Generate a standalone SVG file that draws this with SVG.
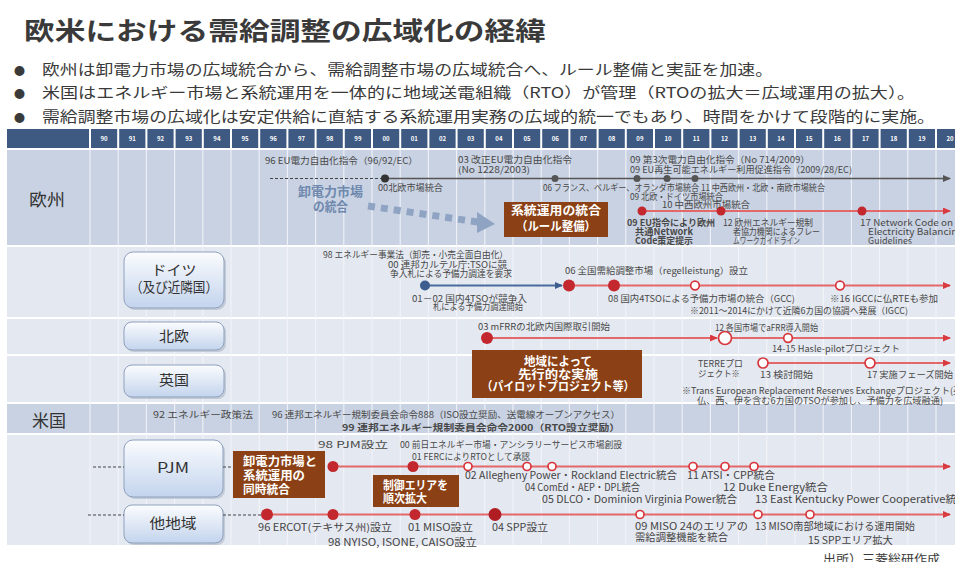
<svg xmlns="http://www.w3.org/2000/svg" width="955" height="562" viewBox="0 0 955 562">
<defs>
<style>
text{font-family:'Noto Sans CJK JP','Noto Sans',sans-serif;fill:#3a3a3a}
.t{font-size:9px;fill:#484848}
.m{font-size:10px;fill:#444}
.b{font-weight:bold}
.yr{font-size:6px;fill:#fff;text-anchor:middle;font-weight:bold}
.bw{font-size:12px;fill:#fff;font-weight:bold}
.bl{font-size:13px;fill:#6f88ae;font-weight:bold}
.lab{font-size:17px;fill:#333}
.nb{font-size:14px;fill:#333;text-anchor:middle}
.red{stroke:#e2686a;stroke-width:2;fill:none}
.dot{fill:#c2282e}
.hol{fill:#fff;stroke:#d8363d;stroke-width:1.7}
.brown{fill:#8b4115}
.nbox{fill:url(#ng);stroke:#8fa1bd;stroke-width:1}
.shd{fill:#9aa6b8;opacity:.45}
.grid line{stroke:#f4f6fa;stroke-width:1.2;opacity:.85}
.dash{stroke:#444;stroke-width:1;stroke-dasharray:3 2;fill:none}
</style>
<linearGradient id="ng" x1="0" y1="0" x2="0" y2="1">
<stop offset="0" stop-color="#fbfcfe"/>
<stop offset="1" stop-color="#c3d4ed"/>
</linearGradient>
<marker id="ar" viewBox="0 0 8 7" refX="7" refY="3.5" markerWidth="8" markerHeight="7" markerUnits="userSpaceOnUse" orient="auto"><path d="M0,0 L8,3.5 L0,7 z" fill="#d93a40"/></marker>
<marker id="ag" viewBox="0 0 8 7" refX="7" refY="3.5" markerWidth="8" markerHeight="7" markerUnits="userSpaceOnUse" orient="auto"><path d="M0,0 L8,3.5 L0,7 z" fill="#555"/></marker>
<marker id="ab" viewBox="0 0 8 7" refX="7" refY="3.5" markerWidth="8" markerHeight="7" markerUnits="userSpaceOnUse" orient="auto"><path d="M0,0 L8,3.5 L0,7 z" fill="#3d5d8f"/></marker>
</defs>
<rect width="955" height="562" fill="#fff"/>

<g id="title">
<text x="24" y="40" font-size="25" font-weight="bold" fill="#111" textLength="522" lengthAdjust="spacingAndGlyphs">欧米における需給調整の広域化の経緯</text>
<g font-size="14.5" fill="#222">
<text x="14" y="75" font-size="11" fill="#111">●</text>
<text x="42" y="75" font-size="14.5" textLength="731" lengthAdjust="spacingAndGlyphs">欧州は卸電力市場の広域統合から、需給調整市場の広域統合へ、ルール整備と実証を加速。</text>
<text x="14" y="98" font-size="11" fill="#111">●</text>
<text x="42" y="98" font-size="14.5" textLength="873" lengthAdjust="spacingAndGlyphs">米国はエネルギー市場と系統運用を一体的に地域送電組織（RTO）が管理（RTOの拡大＝広域運用の拡大）。</text>
<text x="14" y="122" font-size="11" fill="#111">●</text>
<text x="42" y="122" font-size="14.5" textLength="893" lengthAdjust="spacingAndGlyphs">需給調整市場の広域化は安定供給に直結する系統運用実務の広域的統一でもあり、時間をかけて段階的に実施。</text>
</g>
</g>

<g id="table">
<rect x="7" y="129" width="948" height="19" fill="#3e5a83"/>
<rect x="7" y="150" width="948" height="95" fill="#c8d2e2"/>
<rect x="7" y="247" width="948" height="70" fill="#e4e8f0"/>
<rect x="7" y="319" width="948" height="35" fill="#e4e8f0"/>
<rect x="7" y="356" width="948" height="46" fill="#e4e8f0"/>
<rect x="7" y="404" width="948" height="29" fill="#c8d2e2"/>
<rect x="7" y="435" width="948" height="110" fill="#e4e8f0"/>
<g class="grid">
<line x1="90" y1="150" x2="90" y2="545"/><line x1="118.2" y1="150" x2="118.2" y2="545"/><line x1="146.4" y1="150" x2="146.4" y2="545"/><line x1="174.6" y1="150" x2="174.6" y2="545"/><line x1="202.8" y1="150" x2="202.8" y2="545"/><line x1="231" y1="150" x2="231" y2="545"/><line x1="259.2" y1="150" x2="259.2" y2="545"/><line x1="287.4" y1="150" x2="287.4" y2="545"/><line x1="315.6" y1="150" x2="315.6" y2="545"/><line x1="343.8" y1="150" x2="343.8" y2="545"/><line x1="372" y1="150" x2="372" y2="545"/><line x1="400.2" y1="150" x2="400.2" y2="545"/><line x1="428.4" y1="150" x2="428.4" y2="545"/><line x1="456.6" y1="150" x2="456.6" y2="545"/><line x1="484.8" y1="150" x2="484.8" y2="545"/><line x1="513" y1="150" x2="513" y2="545"/><line x1="541.2" y1="150" x2="541.2" y2="545"/><line x1="569.4" y1="150" x2="569.4" y2="545"/><line x1="597.6" y1="150" x2="597.6" y2="545"/><line x1="625.8" y1="150" x2="625.8" y2="545"/><line x1="654" y1="150" x2="654" y2="545"/><line x1="682.2" y1="150" x2="682.2" y2="545"/><line x1="710.4" y1="150" x2="710.4" y2="545"/><line x1="738.6" y1="150" x2="738.6" y2="545"/><line x1="766.8" y1="150" x2="766.8" y2="545"/><line x1="795" y1="150" x2="795" y2="545"/><line x1="823.2" y1="150" x2="823.2" y2="545"/><line x1="851.4" y1="150" x2="851.4" y2="545"/><line x1="879.6" y1="150" x2="879.6" y2="545"/><line x1="907.8" y1="150" x2="907.8" y2="545"/><line x1="936" y1="150" x2="936" y2="545"/>
</g>
<g stroke="#fff" stroke-width="2">
<line x1="90" y1="129" x2="90" y2="148"/><line x1="118.2" y1="129" x2="118.2" y2="148"/><line x1="146.4" y1="129" x2="146.4" y2="148"/><line x1="174.6" y1="129" x2="174.6" y2="148"/><line x1="202.8" y1="129" x2="202.8" y2="148"/><line x1="231" y1="129" x2="231" y2="148"/><line x1="259.2" y1="129" x2="259.2" y2="148"/><line x1="287.4" y1="129" x2="287.4" y2="148"/><line x1="315.6" y1="129" x2="315.6" y2="148"/><line x1="343.8" y1="129" x2="343.8" y2="148"/><line x1="372" y1="129" x2="372" y2="148"/><line x1="400.2" y1="129" x2="400.2" y2="148"/><line x1="428.4" y1="129" x2="428.4" y2="148"/><line x1="456.6" y1="129" x2="456.6" y2="148"/><line x1="484.8" y1="129" x2="484.8" y2="148"/><line x1="513" y1="129" x2="513" y2="148"/><line x1="541.2" y1="129" x2="541.2" y2="148"/><line x1="569.4" y1="129" x2="569.4" y2="148"/><line x1="597.6" y1="129" x2="597.6" y2="148"/><line x1="625.8" y1="129" x2="625.8" y2="148"/><line x1="654" y1="129" x2="654" y2="148"/><line x1="682.2" y1="129" x2="682.2" y2="148"/><line x1="710.4" y1="129" x2="710.4" y2="148"/><line x1="738.6" y1="129" x2="738.6" y2="148"/><line x1="766.8" y1="129" x2="766.8" y2="148"/><line x1="795" y1="129" x2="795" y2="148"/><line x1="823.2" y1="129" x2="823.2" y2="148"/><line x1="851.4" y1="129" x2="851.4" y2="148"/><line x1="879.6" y1="129" x2="879.6" y2="148"/><line x1="907.8" y1="129" x2="907.8" y2="148"/><line x1="936" y1="129" x2="936" y2="148"/>
</g>
<g>
<text class="yr" x="104.1" y="141">90</text><text class="yr" x="132.3" y="141">91</text><text class="yr" x="160.5" y="141">92</text><text class="yr" x="188.7" y="141">93</text><text class="yr" x="216.9" y="141">94</text><text class="yr" x="245.1" y="141">95</text><text class="yr" x="273.3" y="141">96</text><text class="yr" x="301.5" y="141">97</text><text class="yr" x="329.7" y="141">98</text><text class="yr" x="357.9" y="141">99</text><text class="yr" x="386.1" y="141">00</text><text class="yr" x="414.3" y="141">01</text><text class="yr" x="442.5" y="141">02</text><text class="yr" x="470.7" y="141">03</text><text class="yr" x="498.9" y="141">04</text><text class="yr" x="527.1" y="141">05</text><text class="yr" x="555.3" y="141">06</text><text class="yr" x="583.5" y="141">07</text><text class="yr" x="611.7" y="141">08</text><text class="yr" x="639.9" y="141">09</text><text class="yr" x="668.1" y="141">10</text><text class="yr" x="696.3" y="141">11</text><text class="yr" x="724.5" y="141">12</text><text class="yr" x="752.7" y="141">13</text><text class="yr" x="780.9" y="141">14</text><text class="yr" x="809.1" y="141">15</text><text class="yr" x="837.3" y="141">16</text><text class="yr" x="865.5" y="141">17</text><text class="yr" x="893.7" y="141">18</text><text class="yr" x="921.9" y="141">19</text><text class="yr" x="950.1" y="141">20</text>
</g>
<text class="lab" x="29" y="206" textLength="36" lengthAdjust="spacingAndGlyphs">欧州</text>
<text class="lab" x="32" y="427" font-size="16" textLength="34" lengthAdjust="spacingAndGlyphs">米国</text>
</g>

<g id="node-germany">
<rect class="shd" x="126" y="254" width="100" height="56" rx="9"/>
<rect class="nbox" x="124" y="252" width="100" height="56" rx="9"/>
<text class="nb" x="174" y="275" textLength="45" lengthAdjust="spacingAndGlyphs">ドイツ</text>
<text class="nb" x="174" y="292" font-size="12" textLength="88" lengthAdjust="spacingAndGlyphs">（及び近隣国）</text>
</g>
<g id="node-nordic">
<rect class="shd" x="126" y="324" width="100" height="28" rx="8"/>
<rect class="nbox" x="124" y="322" width="100" height="28" rx="8"/>
<text class="nb" x="174" y="341" font-size="13" textLength="30" lengthAdjust="spacingAndGlyphs">北欧</text>
</g>
<g id="node-uk">
<rect class="shd" x="126" y="367" width="100" height="32" rx="8"/>
<rect class="nbox" x="124" y="365" width="100" height="32" rx="8"/>
<text class="nb" x="174" y="385" font-size="13" textLength="30" lengthAdjust="spacingAndGlyphs">英国</text>
</g>
<g id="node-pjm">
<rect class="shd" x="126" y="442" width="99" height="57" rx="9"/>
<rect class="nbox" x="124" y="440" width="99" height="57" rx="9"/>
<text class="nb" x="173" y="473" textLength="32" lengthAdjust="spacingAndGlyphs">PJM</text>
</g>
<g id="node-other">
<rect class="shd" x="126" y="507" width="99" height="38" rx="8"/>
<rect class="nbox" x="124" y="505" width="99" height="38" rx="8"/>
<text class="nb" x="173" y="528" textLength="47" lengthAdjust="spacingAndGlyphs">他地域</text>
</g>

<g id="connectors">
<line class="dash" x1="270" y1="178.5" x2="385" y2="178.5"/>
<line x1="385" y1="178.5" x2="950" y2="178.5" stroke="#555" stroke-width="1.3" marker-end="url(#ag)"/>
<circle cx="385" cy="178.5" r="4" fill="#333"/>
<g fill="#555"><circle cx="555" cy="178.5" r="3.5"/><circle cx="637" cy="178.5" r="3.5"/><circle cx="667" cy="178.5" r="3.5"/><circle cx="695" cy="178.5" r="3.5"/></g>
<line x1="368" y1="206" x2="478" y2="222" stroke="#8fa3c3" stroke-width="7" stroke-dasharray="7 6"/>
<path d="M477,212 L495,224 L477,233 z" fill="#8fa3c3"/>
<line class="red" x1="642" y1="211" x2="950" y2="211" marker-end="url(#ar)"/>
<g class="dot"><circle cx="642" cy="211" r="4.5"/><circle cx="721" cy="211" r="4.5"/><circle cx="862" cy="211" r="4.5"/></g>
<line x1="425" y1="285.5" x2="562" y2="285.5" stroke="#4a6b9c" stroke-width="2" marker-end="url(#ab)"/>
<circle cx="425" cy="285.5" r="5" fill="#3d5d8f"/>
<line class="red" x1="569" y1="285.5" x2="950" y2="285.5" marker-end="url(#ar)"/>
<g class="dot"><circle cx="569" cy="285.5" r="6"/><circle cx="614" cy="285.5" r="6"/></g>
<circle class="hol" cx="695" cy="285.5" r="4.3"/><circle class="hol" cx="840" cy="285.5" r="4.3"/>
<line class="red" x1="487" y1="338" x2="717" y2="338" marker-end="url(#ar)"/>
<line class="red" x1="732" y1="338" x2="950" y2="338" marker-end="url(#ar)"/>
<circle class="dot" cx="487" cy="338" r="6"/>
<circle class="hol" cx="725" cy="338" r="6.5"/>
<circle class="hol" cx="788" cy="338" r="4.3"/>
<line class="red" x1="763" y1="363" x2="950" y2="363" marker-end="url(#ar)"/>
<circle class="hol" cx="763" cy="363" r="5"/><circle class="hol" cx="870" cy="363" r="5"/>
<line class="dash" x1="93" y1="467" x2="124" y2="467"/>
<line class="dash" x1="223" y1="467" x2="233" y2="467"/>
<line class="red" x1="333" y1="466.5" x2="950" y2="466.5" marker-end="url(#ar)"/>
<g class="dot"><circle cx="333" cy="466.5" r="5.5"/><circle cx="413" cy="466.5" r="5.5"/></g>
<g class="hol"><circle cx="468" cy="466.5" r="4"/><circle cx="527" cy="466.5" r="4"/><circle cx="552" cy="466.5" r="4"/><circle cx="693" cy="466.5" r="4"/><circle cx="725" cy="466.5" r="4"/><circle cx="754" cy="466.5" r="4"/></g>
<line class="dash" x1="88" y1="515" x2="124" y2="515"/>
<line class="dash" x1="223" y1="515" x2="262" y2="515"/>
<line class="red" x1="267" y1="514.5" x2="950" y2="514.5" marker-end="url(#ar)"/>
<g class="dot"><circle cx="267" cy="514.5" r="6"/><circle cx="333" cy="514.5" r="5.5"/><circle cx="415" cy="514.5" r="5.5"/><circle cx="495" cy="514.5" r="6.5" fill="#b01e24"/></g>
<g class="hol"><circle cx="640" cy="514.5" r="4"/><circle cx="758" cy="514.5" r="4"/><circle cx="810" cy="514.5" r="4"/></g>
</g>

<g id="node-rule">
<rect class="brown" x="504" y="202" width="104" height="35"/>
<text class="bw" x="556" y="215" text-anchor="middle" font-size="13" textLength="90" lengthAdjust="spacingAndGlyphs">系統運用の統合</text>
<text class="bw" x="556" y="231" text-anchor="middle" font-size="13" textLength="80" lengthAdjust="spacingAndGlyphs">（ルール整備）</text>
</g>
<g id="node-pilot">
<rect class="brown" x="472" y="350" width="170" height="48"/>
<text class="bw" x="558" y="366" text-anchor="middle" textLength="68" lengthAdjust="spacingAndGlyphs">地域によって</text>
<text class="bw" x="558" y="378.5" text-anchor="middle" textLength="80" lengthAdjust="spacingAndGlyphs">先行的な実施</text>
<text class="bw" x="558" y="391" text-anchor="middle" textLength="153" lengthAdjust="spacingAndGlyphs">（パイロットプロジェクト等）</text>
</g>
<g id="node-simul">
<rect class="brown" x="233" y="451" width="92" height="47"/>
<text class="bw" x="243" y="466" textLength="74" lengthAdjust="spacingAndGlyphs">卸電力市場と</text>
<text class="bw" x="243" y="480" textLength="62" lengthAdjust="spacingAndGlyphs">系統運用の</text>
<text class="bw" x="243" y="494" textLength="47" lengthAdjust="spacingAndGlyphs">同時統合</text>
</g>
<g id="node-area">
<rect class="brown" x="373" y="475" width="86" height="32"/>
<text class="bw" x="383" y="489.5" textLength="65" lengthAdjust="spacingAndGlyphs">制御エリアを</text>
<text class="bw" x="383" y="502.5" textLength="44" lengthAdjust="spacingAndGlyphs">順次拡大</text>
</g>

<g id="labels">
<text class="t" x="265" y="164" textLength="153" lengthAdjust="spacingAndGlyphs">96 EU電力自由化指令（96/92/EC）</text>
<text class="t" x="458" y="163" textLength="114" lengthAdjust="spacingAndGlyphs">03 改正EU電力自由化指令</text>
<text class="t" x="458" y="172.5" textLength="72" lengthAdjust="spacingAndGlyphs">(No 1228/2003)</text>
<text class="t" x="630" y="163" textLength="180" lengthAdjust="spacingAndGlyphs">09 第3次電力自由化指令（No 714/2009）</text>
<text class="t" x="630" y="172.5" textLength="222" lengthAdjust="spacingAndGlyphs">09 EU再生可能エネルギー利用促進指令（2009/28/EC)</text>
<text class="t" x="378" y="191" font-size="8.5" textLength="65" lengthAdjust="spacingAndGlyphs">00北欧市場統合</text>
<text class="t" x="543" y="190.5" textLength="282" lengthAdjust="spacingAndGlyphs">06 フランス、ベルギー、オランダ市場統合 11 中西欧州・北欧・南欧市場統合</text>
<text class="t" x="630" y="199.5" textLength="93" lengthAdjust="spacingAndGlyphs">09 北欧・ドイツ市場統合</text>
<text class="t" x="662" y="208" textLength="88" lengthAdjust="spacingAndGlyphs">10 中西欧州市場統合</text>
<text class="bl" x="298" y="196" textLength="65" lengthAdjust="spacingAndGlyphs">卸電力市場</text>
<text class="bl" x="313" y="211" textLength="35" lengthAdjust="spacingAndGlyphs">の統合</text>
<text class="t b" x="627" y="225.5" fill="#222" textLength="88" lengthAdjust="spacingAndGlyphs">09 EU指令により欧州</text>
<text class="t b" x="635" y="234.5" fill="#222" textLength="58" lengthAdjust="spacingAndGlyphs">共通Network</text>
<text class="t b" x="635" y="243.5" fill="#222" textLength="58" lengthAdjust="spacingAndGlyphs">Code策定提示</text>
<text class="t" x="723" y="225.5" textLength="90" lengthAdjust="spacingAndGlyphs">12 欧州エネルギー規制</text>
<text class="t" x="733" y="234.5" textLength="87" lengthAdjust="spacingAndGlyphs">者協力機関によるフレー</text>
<text class="t" x="733" y="243.5" textLength="67" lengthAdjust="spacingAndGlyphs">ムワークガイドライン</text>
<text class="t" x="860" y="225.5" textLength="93" lengthAdjust="spacingAndGlyphs">17 Network Code on</text>
<text class="t" x="868" y="234.5" textLength="95" lengthAdjust="spacingAndGlyphs">Electricity Balancing</text>
<text class="t" x="868" y="243.5" textLength="44" lengthAdjust="spacingAndGlyphs">Guidelines</text>
<text class="t" x="323" y="257.5" font-size="8.5" textLength="185" lengthAdjust="spacingAndGlyphs">98 エネルギー事業法（卸売・小売全面自由化）</text>
<text class="t" x="388" y="268" font-size="8.5" textLength="119" lengthAdjust="spacingAndGlyphs">00 連邦カルテル庁:TSOに競</text>
<text class="t" x="390" y="276.5" font-size="8.5" textLength="122" lengthAdjust="spacingAndGlyphs">争入札による予備力調達を要求</text>
<text class="t" x="412" y="301.5" font-size="8.5" textLength="115" lengthAdjust="spacingAndGlyphs">01－02 国内4TSOが競争入</text>
<text class="t" x="433" y="309.5" font-size="8.5" textLength="90" lengthAdjust="spacingAndGlyphs">札による予備力調達開始</text>
<text class="t" x="565" y="273.5" textLength="183" lengthAdjust="spacingAndGlyphs">06 全国需給調整市場（regelleistung）設立</text>
<text class="t" x="608" y="301.5" textLength="187" lengthAdjust="spacingAndGlyphs">08 国内4TSOによる予備力市場の統合（GCC)</text>
<text class="t" x="830" y="301.5" textLength="108" lengthAdjust="spacingAndGlyphs">※16 IGCCに仏RTEも参加</text>
<text class="t" x="690" y="314" textLength="218" lengthAdjust="spacingAndGlyphs">※2011～2014にかけて近隣6カ国の協調へ発展（IGCC)</text>
<text class="t" x="478" y="330" textLength="132" lengthAdjust="spacingAndGlyphs">03 mFRRの北欧内国際取引開始</text>
<text class="t" x="715" y="330.5" textLength="103" lengthAdjust="spacingAndGlyphs">12 各国市場でaFRR導入開始</text>
<text class="t" x="772" y="351.5" textLength="128" lengthAdjust="spacingAndGlyphs">14-15 Hasle-pilotプロジェクト</text>
<text class="t" x="698" y="366.5" textLength="45" lengthAdjust="spacingAndGlyphs">TERREプロ</text>
<text class="t" x="698" y="376.5" textLength="42" lengthAdjust="spacingAndGlyphs">ジェクト※</text>
<text class="t" x="760" y="377.5" textLength="53" lengthAdjust="spacingAndGlyphs">13 検討開始</text>
<text class="t" x="867" y="377.5" textLength="86" lengthAdjust="spacingAndGlyphs">17 実施フェーズ開始</text>
<text class="t" x="682" y="394" font-size="8.5" textLength="280" lengthAdjust="spacingAndGlyphs">※Trans European Replacement Reserves Exchangeプロジェクト(英</text>
<text class="t" x="697" y="403.5" font-size="8.5" textLength="246" lengthAdjust="spacingAndGlyphs">仏、西、伊を含む6カ国のTSOが参加し、予備力を広域融通)</text>
<text class="t" x="153" y="418" textLength="100" lengthAdjust="spacingAndGlyphs">92 エネルギー政策法</text>
<text class="t" x="272" y="418" textLength="348" lengthAdjust="spacingAndGlyphs">96 連邦エネルギー規制委員会命令888（ISO設立奨励、送電線オープンアクセス）</text>
<text class="t b" x="342" y="430.5" fill="#222" textLength="278" lengthAdjust="spacingAndGlyphs">99 連邦エネルギー規制委員会命令2000（RTO設立奨励）</text>
<text class="t" x="318" y="447.5" textLength="70" lengthAdjust="spacingAndGlyphs">98 PJM設立</text>
<text class="t" x="400" y="447.5" textLength="222" lengthAdjust="spacingAndGlyphs">00 前日エネルギー市場・アンシラリーサービス市場創設</text>
<text class="t" x="412" y="460" textLength="118" lengthAdjust="spacingAndGlyphs">01 FERCによりRTOとして承認</text>
<text class="m" x="465" y="479" textLength="212" lengthAdjust="spacingAndGlyphs">02 Allegheny Power・Rockland Electric統合</text>
<text class="m" x="687" y="479" textLength="88" lengthAdjust="spacingAndGlyphs">11 ATSI・CPP統合</text>
<text class="m" x="525" y="491" textLength="115" lengthAdjust="spacingAndGlyphs">04 ComEd・AEP・DPL統合</text>
<text class="m" x="723" y="491" textLength="105" lengthAdjust="spacingAndGlyphs">12 Duke Energy統合</text>
<text class="m" x="542" y="503" textLength="195" lengthAdjust="spacingAndGlyphs">05 DLCO・Dominion Virginia Power統合</text>
<text class="m" x="755" y="503" textLength="213" lengthAdjust="spacingAndGlyphs">13 East Kentucky Power Cooperative統合</text>
<text class="m" x="258" y="531" textLength="134" lengthAdjust="spacingAndGlyphs">96 ERCOT(テキサス州)設立</text>
<text class="m" x="408" y="531" textLength="65" lengthAdjust="spacingAndGlyphs">01 MISO設立</text>
<text class="m" x="492" y="531" textLength="56" lengthAdjust="spacingAndGlyphs">04 SPP設立</text>
<text class="m" x="328" y="546" textLength="149" lengthAdjust="spacingAndGlyphs">98 NYISO, ISONE, CAISO設立</text>
<text class="m" x="635" y="530" textLength="113" lengthAdjust="spacingAndGlyphs">09 MISO 24のエリアの</text>
<text class="m" x="635" y="540.5" textLength="93" lengthAdjust="spacingAndGlyphs">需給調整機能を統合</text>
<text class="m" x="755" y="530" textLength="160" lengthAdjust="spacingAndGlyphs">13 MISO南部地域における運用開始</text>
<text class="m" x="808" y="544" textLength="85" lengthAdjust="spacingAndGlyphs">15 SPPエリア拡大</text>
<text x="823" y="564" font-size="12" fill="#333" textLength="117" lengthAdjust="spacingAndGlyphs">出所）三菱総研作成</text>
</g>
</svg>
